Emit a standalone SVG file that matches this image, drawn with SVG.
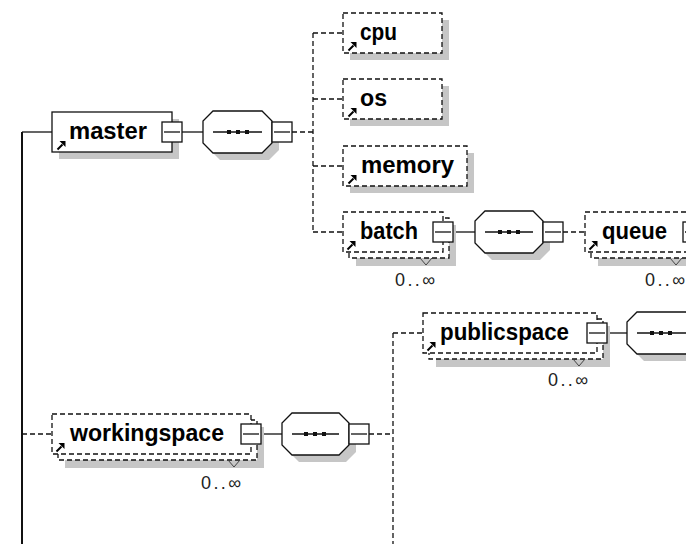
<svg xmlns="http://www.w3.org/2000/svg" xmlns:xlink="http://www.w3.org/1999/xlink" width="686" height="544" viewBox="0 0 686 544">
<style>
.bg{fill:#fff}
.sh{fill:#c6c6c6;stroke:none}
.el{fill:#fff;stroke:#111;stroke-width:1.3}
.opt{fill:#fff;stroke:#111;stroke-width:1.3;stroke-dasharray:5 3}
.seq{fill:#fff;stroke:#111;stroke-width:1.3}
.btn{fill:#fff;stroke:#111;stroke-width:1.3}
.ln{fill:none;stroke:#111;stroke-width:1.3}
.dl{fill:none;stroke:#111;stroke-width:1.3;stroke-dasharray:5 3}
.main{fill:none;stroke:#111;stroke-width:2}
.v{fill:none;stroke:#444;stroke-width:1}
.lbl{font-family:"Liberation Sans",Arial,sans-serif;font-weight:bold;font-size:23px;fill:#000}
.occ{font-family:"Liberation Sans",Arial,sans-serif;font-size:18px;fill:#222}
.dot{fill:#111}
</style>
<defs>
<g id="ref"><path d="M0.5,8.5 L5.5,3.5" stroke="#000" stroke-width="2" fill="none"/><path d="M2.5,0 L8.5,0 L8.5,6 Z" fill="#000"/></g>
</defs>
<rect class="bg" x="0" y="0" width="686" height="544"/>

<g id="connectors">
<path class="main" d="M22,132 V544"/>
<path class="ln" d="M22,132 H52"/>
<path class="dl" d="M22,434 H52"/>
<path class="ln" d="M182,132 H203"/>
<path class="dl" d="M292,132 H313"/>
<path class="dl" d="M313,33 V232"/>
<path class="dl" d="M313,33 H343 M313,99 H343 M313,166 H343 M313,232 H343"/>
<path class="ln" d="M453,232 H475"/>
<path class="dl" d="M563,232 H585"/>
<path class="ln" d="M261,434 H282"/>
<path class="dl" d="M369,434 H393"/>
<path class="dl" d="M393,333 V544"/>
<path class="dl" d="M393,333 H423"/>
<path class="ln" d="M607,333 H627"/>
</g>

<g id="master">
<rect class="sh" x="59" y="119" width="120" height="40"/>
<rect class="el" x="52" y="112" width="120" height="40"/>
<use xlink:href="#ref" x="57" y="141"/>
<text class="lbl" x="69" y="139" textLength="78" lengthAdjust="spacingAndGlyphs">master</text>
<rect class="btn" x="162" y="122" width="20" height="20"/>
<path class="ln" d="M164,132 H180"/>
</g>

<g id="seq-master">
<path class="sh" d="M220,118 H269 L279,128 V150 L269,160 H220 L210,150 V128 Z"/>
<path class="seq" d="M213,111 H262 L272,121 V143 L262,153 H213 L203,143 V121 Z"/>
<path class="ln" d="M213,132 H262"/>
<rect class="dot" x="227" y="130" width="4" height="4"/><rect class="dot" x="236" y="130" width="4" height="4"/><rect class="dot" x="245" y="130" width="4" height="4"/>
<rect class="btn" x="272" y="122" width="20" height="20"/>
<path class="ln" d="M274,132 H290"/>
</g>

<g id="cpu">
<rect class="sh" x="350" y="20" width="99" height="40"/>
<rect class="opt" x="343" y="13" width="99" height="40"/>
<use xlink:href="#ref" x="348" y="42"/>
<text class="lbl" x="360" y="40" textLength="37" lengthAdjust="spacingAndGlyphs">cpu</text>
</g>

<g id="os">
<rect class="sh" x="350" y="86" width="99" height="40"/>
<rect class="opt" x="343" y="79" width="99" height="40"/>
<use xlink:href="#ref" x="348" y="108"/>
<text class="lbl" x="360" y="106" textLength="27" lengthAdjust="spacingAndGlyphs">os</text>
</g>

<g id="memory">
<rect class="sh" x="350" y="153" width="124" height="40"/>
<rect class="opt" x="343" y="146" width="124" height="40"/>
<use xlink:href="#ref" x="348" y="175"/>
<text class="lbl" x="361" y="173" textLength="93" lengthAdjust="spacingAndGlyphs">memory</text>
</g>

<g id="batch">
<rect class="sh" x="356" y="225" width="100" height="41"/>
<rect class="opt" x="349" y="218" width="100" height="40"/>
<rect class="opt" x="343" y="212" width="100" height="40"/>
<use xlink:href="#ref" x="347" y="241"/>
<text class="lbl" x="360" y="239" textLength="58" lengthAdjust="spacingAndGlyphs">batch</text>
<rect class="btn" x="433" y="222" width="20" height="20"/>
<path class="ln" d="M435,232 H451"/>
<path class="v" d="M420,258 L426,265 L432,258"/>
<text class="occ" x="435" y="286" text-anchor="end" textLength="40" lengthAdjust="spacing">0..∞</text>
</g>

<g id="seq-batch">
<path class="sh" d="M492,218 H540 L550,228 V250 L540,260 H492 L482,250 V228 Z"/>
<path class="seq" d="M485,211 H533 L543,221 V243 L533,253 H485 L475,243 V221 Z"/>
<path class="ln" d="M485,232 H533"/>
<rect class="dot" x="498" y="230" width="4" height="4"/><rect class="dot" x="507" y="230" width="4" height="4"/><rect class="dot" x="516" y="230" width="4" height="4"/>
<rect class="btn" x="543" y="222" width="20" height="20"/>
<path class="ln" d="M545,232 H561"/>
</g>

<g id="queue">
<rect class="sh" x="598" y="225" width="108" height="41"/>
<rect class="opt" x="591" y="218" width="108" height="40"/>
<rect class="opt" x="585" y="212" width="108" height="40"/>
<use xlink:href="#ref" x="589" y="241"/>
<text class="lbl" x="602" y="239" textLength="65" lengthAdjust="spacingAndGlyphs">queue</text>
<rect class="btn" x="683" y="222" width="20" height="20"/>
<path class="ln" d="M685,232 H701"/>
<path class="v" d="M670,258 L676,265 L682,258"/>
<text class="occ" x="685" y="286" text-anchor="end" textLength="40" lengthAdjust="spacing">0..∞</text>
</g>

<g id="publicspace">
<rect class="sh" x="436" y="326" width="174" height="41"/>
<rect class="opt" x="429" y="319" width="174" height="40"/>
<rect class="opt" x="423" y="313" width="174" height="40"/>
<use xlink:href="#ref" x="427" y="342"/>
<text class="lbl" x="440" y="340" textLength="129" lengthAdjust="spacingAndGlyphs">publicspace</text>
<rect class="btn" x="587" y="323" width="20" height="20"/>
<path class="ln" d="M589,333 H605"/>
<path class="v" d="M573,359 L579,366 L585,359"/>
<text class="occ" x="588" y="386" text-anchor="end" textLength="40" lengthAdjust="spacing">0..∞</text>
</g>

<g id="seq-publicspace">
<path class="sh" d="M644,319 H693 L703,329 V351 L693,361 H644 L634,351 V329 Z"/>
<path class="seq" d="M637,312 H686 L696,322 V344 L686,354 H637 L627,344 V322 Z"/>
<path class="ln" d="M637,333 H686"/>
<rect class="dot" x="650" y="331" width="4" height="4"/><rect class="dot" x="659" y="331" width="4" height="4"/><rect class="dot" x="668" y="331" width="4" height="4"/>
</g>

<g id="workingspace">
<rect class="sh" x="65" y="427" width="199" height="41"/>
<rect class="opt" x="58" y="420" width="199" height="40"/>
<rect class="opt" x="52" y="414" width="199" height="40"/>
<use xlink:href="#ref" x="56" y="443"/>
<text class="lbl" x="70" y="441" textLength="154" lengthAdjust="spacingAndGlyphs">workingspace</text>
<rect class="btn" x="241" y="424" width="20" height="20"/>
<path class="ln" d="M243,434 H259"/>
<path class="v" d="M228,460 L234,467 L240,460"/>
<text class="occ" x="241" y="489" text-anchor="end" textLength="40" lengthAdjust="spacing">0..∞</text>
</g>

<g id="seq-workingspace">
<path class="sh" d="M299,420 H346 L356,430 V452 L346,462 H299 L289,452 V430 Z"/>
<path class="seq" d="M292,413 H339 L349,423 V445 L339,455 H292 L282,445 V423 Z"/>
<path class="ln" d="M292,434 H339"/>
<rect class="dot" x="304" y="432" width="4" height="4"/><rect class="dot" x="313" y="432" width="4" height="4"/><rect class="dot" x="322" y="432" width="4" height="4"/>
<rect class="btn" x="349" y="424" width="20" height="20"/>
<path class="ln" d="M351,434 H367"/>
</g>
</svg>
